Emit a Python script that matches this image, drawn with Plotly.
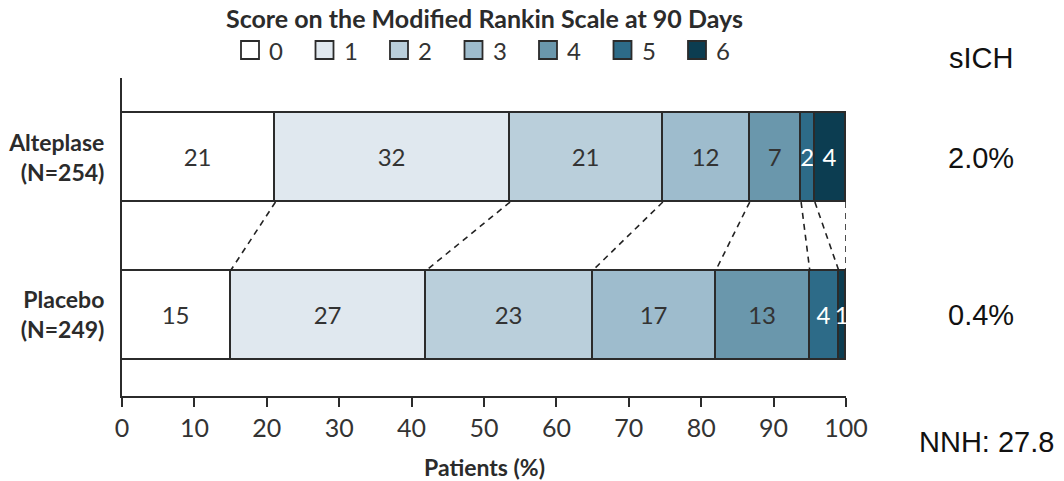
import plotly.graph_objects as go

# Modified Rankin Scale distribution at 90 days (% of patients)
mrs_scores = ["0", "1", "2", "3", "4", "5", "6"]
alteplase_pct = [21.2, 32.4, 21.1, 12.0, 7.1, 1.9, 4.3]
placebo_pct = [15, 27, 23, 17, 13, 4, 1]
groups = ["Alteplase<br>(N=254)", "Placebo<br>(N=249)"]
sich_rates = ["2.0%", "0.4%"]
sich_header = "sICH"
nnh_label = "NNH: 27.8"
x_ticks = list(range(0, 101, 10))

colors = ["#ffffff", "#e0e8ef", "#bacfdb", "#9ebccd", "#6a97ac", "#2d6b88", "#0c3d51"]
text_colors = ["#333333"] * 5 + ["#ffffff"] * 2

BAR_W = 0.565
Y_ALT, Y_PLA = 1, 0
EDGE = "#2b2b2b"
FONT = "Lato"
SIDE_FONT = "Liberation Sans"

fig = go.Figure()

for i, score in enumerate(mrs_scores):
    vals = [alteplase_pct[i], placebo_pct[i]]
    fig.add_trace(go.Bar(
        x=vals,
        y=[Y_ALT, Y_PLA],
        orientation="h",
        width=BAR_W,
        name=score,
        marker=dict(color=colors[i], line=dict(color=EDGE, width=1.8)),
        text=vals,
        texttemplate="%{x:.0f}",
        textposition="inside",
        insidetextanchor="middle",
        textfont=dict(color=text_colors[i], size=24, family=FONT),
        showlegend=False,
        hoverinfo="skip",
    ))

# dashed connectors between matching cumulative boundaries
cum_a, cum_p = 0.0, 0.0
for i in range(len(mrs_scores)):
    cum_a += alteplase_pct[i]
    cum_p += placebo_pct[i]
    fig.add_trace(go.Scatter(
        x=[cum_a, cum_p],
        y=[Y_ALT - BAR_W / 2, Y_PLA + BAR_W / 2],
        mode="lines",
        line=dict(color="#222222", width=1.6, dash="6px,5px"),
        showlegend=False,
        hoverinfo="skip",
    ))

annotations = []
shapes = []

PLOT_L, PLOT_W, PLOT_B, PLOT_H = 122, 724, 396, 318

# chart heading
annotations.append(dict(
    x=0.5, y=(PLOT_B - 18) / PLOT_H, xref="paper", yref="paper",
    text="<b>Score on the Modified Rankin Scale at 90 Days</b>",
    showarrow=False, font=dict(family=FONT, size=25, color="#2b2b2b"),
    xanchor="center", yanchor="middle",
))

# x-axis title
annotations.append(dict(
    x=0.5, y=(PLOT_B - 467) / PLOT_H, xref="paper", yref="paper",
    text="<b>Patients (%)</b>", showarrow=False,
    font=dict(family=FONT, size=23, color="#2b2b2b"),
    xanchor="center", yanchor="middle",
))

# legend swatches
for i, score in enumerate(mrs_scores):
    px = 241 + i * 74.5
    x0 = (px - PLOT_L) / PLOT_W
    x1 = (px + 18 - PLOT_L) / PLOT_W
    y0 = (PLOT_B - 59) / PLOT_H
    y1 = (PLOT_B - 41) / PLOT_H
    shapes.append(dict(
        type="rect", xref="paper", yref="paper",
        x0=x0, x1=x1, y0=y0, y1=y1,
        fillcolor=colors[i], line=dict(color=EDGE, width=1.8),
    ))
    annotations.append(dict(
        x=(px + 26 - PLOT_L) / PLOT_W, y=(PLOT_B - 50) / PLOT_H,
        xref="paper", yref="paper", text=score, showarrow=False,
        font=dict(family=FONT, size=24, color="#333333"),
        xanchor="left", yanchor="middle",
    ))

# sICH column on the right
RIGHT_X = (981 - PLOT_L) / PLOT_W
annotations.append(dict(
    x=RIGHT_X, y=(PLOT_B - 58) / PLOT_H, xref="paper", yref="paper",
    text=sich_header, showarrow=False,
    font=dict(family=SIDE_FONT, size=29, color="#111111"),
    xanchor="center", yanchor="middle",
))
for yv, rate in zip([Y_ALT, Y_PLA], sich_rates):
    annotations.append(dict(
        x=RIGHT_X, y=yv, xref="paper", yref="y",
        text=rate, showarrow=False,
        font=dict(family=SIDE_FONT, size=29, color="#111111"),
        xanchor="center", yanchor="middle",
    ))
annotations.append(dict(
    x=(986 - PLOT_L) / PLOT_W, y=(PLOT_B - 442) / PLOT_H, xref="paper", yref="paper",
    text=nnh_label, showarrow=False,
    font=dict(family=SIDE_FONT, size=29, color="#111111"),
    xanchor="center", yanchor="middle",
))

fig.update_layout(
    width=1064, height=481,
    margin=dict(l=122, r=218, t=78, b=85),
    paper_bgcolor="white", plot_bgcolor="white",
    barmode="stack",
    bargap=0,
    uniformtext=dict(minsize=24, mode="show"),
    annotations=annotations,
    shapes=shapes,
    xaxis=dict(
        range=[0, 100], tickvals=x_ticks, automargin=False,
        showgrid=False, zeroline=False,
        showline=True, linecolor=EDGE, linewidth=2,
        ticks="outside", ticklen=9, tickwidth=2, tickcolor=EDGE,
        tickfont=dict(family=FONT, size=25, color="#333333"),
    ),
    yaxis=dict(
        range=[-0.514, 1.505], tickvals=[Y_ALT, Y_PLA], automargin=False,
        ticktext=["<b>" + g.replace("<br>", "</b><br><b>") + "</b>" for g in groups],
        showgrid=False, zeroline=False,
        showline=True, linecolor=EDGE, linewidth=2,
        ticks="", ticklabelstandoff=11,
        tickfont=dict(family=FONT, size=23, color="#2b2b2b"),
    ),
)

fig.write_html("out.html")
